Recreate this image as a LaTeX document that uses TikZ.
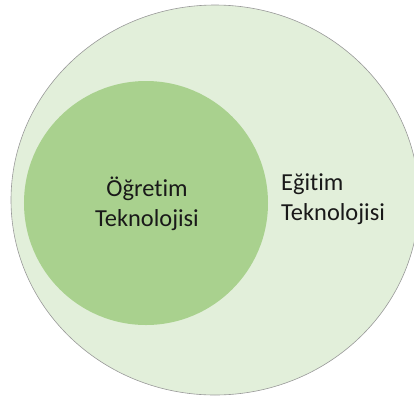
\documentclass[tikz,border=0pt]{standalone}
\usepackage{fontspec}
\setmainfont[Ligatures={NoCommon,NoRequired,NoContextual}]{Carlito}
\usetikzlibrary{shapes.geometric}
\definecolor{outerfill}{HTML}{E2EFDA}
\definecolor{innerfill}{HTML}{A9D18E}
\begin{document}
\begin{tikzpicture}[x=1bp,y=-1bp,
  lbl/.style={font=\fontsize{24.5}{30}\selectfont, text=black!90, inner sep=0pt}]
\useasboundingbox (0,0) rectangle (414,398);
\clip (0,0) rectangle (414,398);
\node[ellipse, draw=black!40, line width=0.6bp, fill=outerfill, minimum width=408bp, minimum height=390bp, inner sep=0pt] (outer) at (215,200) {};
\node[circle, fill=innerfill, minimum size=244bp, inner sep=0pt] (inner) at (146,203) {};
\node[lbl, align=center] (ot) at (147,204) {Öğretim\\Teknolojisi};
\node[lbl, align=left, anchor=west] (et) at (281,199) {Eğitim\\Teknolojisi};
\end{tikzpicture}
\end{document}
